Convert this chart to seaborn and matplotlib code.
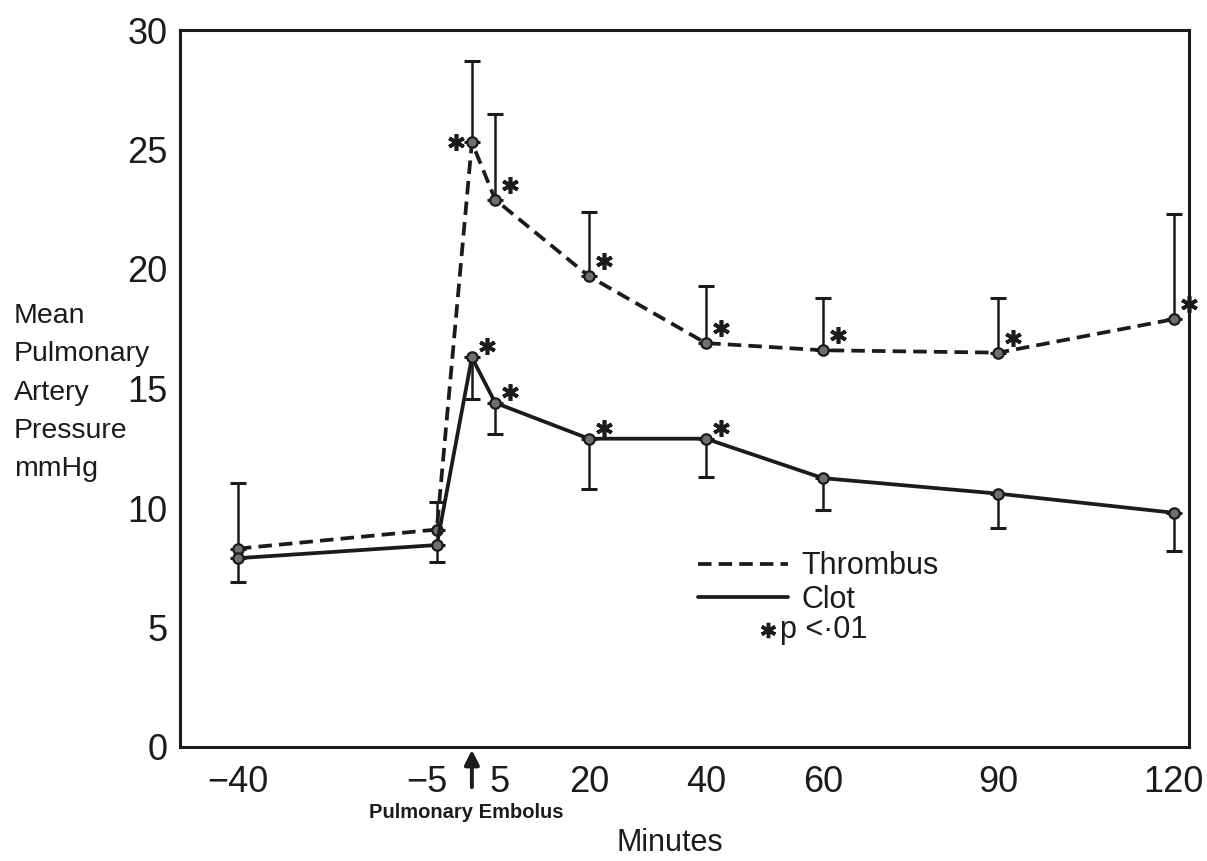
import numpy as np
import pandas as pd
import matplotlib
matplotlib.use("Agg")
import matplotlib.pyplot as plt
import matplotlib.transforms as mtransforms
from matplotlib.lines import Line2D
import seaborn as sns

# ---------------- data ----------------
minutes = [-40, -6, 0, 4, 20, 40, 60, 90, 120]
thrombus_mean = [8.3, 9.1, 25.3, 22.9, 19.7, 16.9, 16.6, 16.5, 17.9]
thrombus_upper = [11.05, 10.25, 28.7, 26.5, 22.4, 19.3, 18.8, 18.8, 22.3]
clot_mean = [7.9, 8.45, 16.3, 14.4, 12.9, 12.9, 11.25, 10.6, 9.8]
clot_lower = [6.9, 7.75, 14.55, 13.1, 10.8, 11.3, 9.9, 9.15, 8.2]
thrombus_sig = [False, False, True, True, True, True, True, True, True]
clot_sig = [False, False, True, True, True, True, False, False, False]

series_names = ["Thrombus", "Clot"]
xtick_values = [-40, -20, 0, 20, 40, 60, 90, 120]
xtick_labels = ["\u221240", "", "", "20", "40", "60", "90", "120"]
extra_xlabel_pos = [-7.7, 4.8]
extra_xlabels = ["\u22125", "5"]
ytick_values = [0, 5, 10, 15, 20, 25, 30]
ylabel_lines = ["Mean", "Pulmonary", "Artery", "Pressure", "mmHg"]
xlabel_text = "Minutes"
event_text = "Pulmonary Embolus"
sig_text = "p <\u00b701"

# ---------------- style ----------------
sns.set_style("white")
plt.rcParams["font.family"] = ["Liberation Sans", "DejaVu Sans"]
INK = "#1b1b1b"
DASH = (3.6, 1.9)

fig = plt.figure(figsize=(12.07, 8.61), dpi=100)
W, H = 1207, 861
ax = fig.add_axes([180 / W, 1 - 747 / H, (1189 - 180) / W, (747 - 30) / H])

df = pd.DataFrame({
    "Minutes": minutes * 2,
    "Pressure": thrombus_mean + clot_mean,
    "Group": [series_names[0]] * len(minutes) + [series_names[1]] * len(minutes),
})

sns.lineplot(data=df, x="Minutes", y="Pressure", style="Group",
             dashes={series_names[0]: DASH, series_names[1]: ""},
             markers={series_names[0]: "o", series_names[1]: "o"},
             color=INK, lw=2.7, ms=7.5, mfc="#6f6f6f", mec=INK, mew=1.6,
             errorbar=None, sort=False, legend=False, ax=ax, zorder=3)

t_up = np.array(thrombus_upper) - np.array(thrombus_mean)
c_lo = np.array(clot_mean) - np.array(clot_lower)
zeros = np.zeros(len(minutes))
ax.errorbar(minutes, thrombus_mean, yerr=[zeros, t_up], fmt="none",
            ecolor=INK, elinewidth=1.8, capsize=5.8, capthick=2.2, zorder=2)
ax.errorbar(minutes, clot_mean, yerr=[c_lo, zeros], fmt="none",
            ecolor=INK, elinewidth=1.8, capsize=5.8, capthick=2.2, zorder=2)

# significance asterisks, offset from their points
star = (6, 2, 0)
for i, (x, y, s) in enumerate(zip(minutes, thrombus_mean, thrombus_sig)):
    if s:
        dx, dy = (-16, 0) if i == 2 else (15, 15)
        tr = mtransforms.offset_copy(ax.transData, fig=fig, x=dx, y=dy, units="dots")
        ax.plot([x], [y], marker=star, ms=12, mew=2.6, color=INK, transform=tr,
                linestyle="none", clip_on=False, zorder=4)
for x, y, s in zip(minutes, clot_mean, clot_sig):
    if s:
        tr = mtransforms.offset_copy(ax.transData, fig=fig, x=15, y=11, units="dots")
        ax.plot([x], [y], marker=star, ms=12, mew=2.6, color=INK, transform=tr,
                linestyle="none", clip_on=False, zorder=4)

# axes
ax.set_xlim(-49.9, 122.6)
ax.set_ylim(0, 30)
ax.set_xticks(xtick_values)
ax.set_xticklabels(xtick_labels)
ax.set_xticks(extra_xlabel_pos, minor=True)
ax.set_xticklabels(extra_xlabels, minor=True)
ax.set_yticks(ytick_values)
ax.set_yticklabels([str(v) for v in ytick_values])
ax.tick_params(axis="both", which="major", direction="in", length=9, width=2,
               color=INK, labelcolor=INK, labelsize=26)
ax.tick_params(axis="x", which="major", pad=13)
ax.tick_params(axis="x", which="minor", length=0, pad=13, labelsize=26, labelcolor=INK)
ax.tick_params(axis="y", which="major", pad=9)
for sp in ax.spines.values():
    sp.set_visible(True)
    sp.set_linewidth(2.2)
    sp.set_color(INK)
ax.set_xlabel("")
ax.set_ylabel("")

# y label block (one text per line) and x label
for k, line in enumerate(ylabel_lines):
    fig.text(14 / W, 1 - (323 + 38.3 * k) / H, line, ha="left", va="baseline",
             fontsize=20.5, color=INK)
fig.text(670 / W, 1 - 843 / H, xlabel_text, ha="center", va="center", fontsize=22, color=INK)

# arrow marking the embolus
ax.annotate("", xy=(0, -0.004), xycoords=("data", "axes fraction"),
            xytext=(0, -0.056), textcoords=("data", "axes fraction"),
            arrowprops=dict(arrowstyle="-|>", lw=2.8, color=INK, mutation_scale=22,
                            shrinkA=0, shrinkB=0),
            annotation_clip=False)
ax.text(-0.9, -0.091, event_text, transform=mtransforms.blended_transform_factory(ax.transData, ax.transAxes),
        ha="center", va="center", fontsize=14.5, fontweight="bold", color=INK)

# legend
handles = [Line2D([], [], color=INK, lw=2.7, dashes=DASH),
           Line2D([], [], color=INK, lw=2.7)]
ax.legend(handles, series_names, loc="upper left", bbox_to_anchor=(0.513, 0.273),
          frameon=False, fontsize=22, handlelength=2.95, handletextpad=0.45,
          borderpad=0, borderaxespad=0, labelspacing=0.12, labelcolor=INK)
ax.plot([0.583], [0.163], marker=star, ms=11, mew=2.5, color=INK,
        transform=ax.transAxes, linestyle="none", clip_on=False)
ax.text(0.595, 0.163, sig_text, transform=ax.transAxes, ha="left", va="center",
        fontsize=22, color=INK)

fig.savefig("out.png", dpi=100, facecolor="white")
